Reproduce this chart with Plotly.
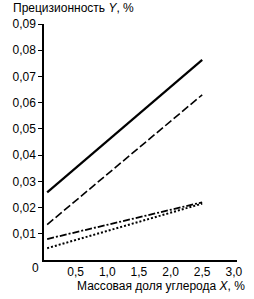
import plotly.graph_objects as go

x_vals = [0.05, 2.5]
solid = [0.0258, 0.0763]
dashed = [0.0135, 0.0630]
dashdot = [0.0080, 0.0220]
dotted = [0.0045, 0.0215]

y_ticks = [0.01, 0.02, 0.03, 0.04, 0.05, 0.06, 0.07, 0.08, 0.09]
x_ticks = [0.5, 1.0, 1.5, 2.0, 2.5, 3.0]

fig = go.Figure()
fig.add_trace(go.Scatter(x=x_vals, y=solid, mode="lines", line=dict(color="black", width=2.2, dash="solid")))
fig.add_trace(go.Scatter(x=x_vals, y=dashed, mode="lines", line=dict(color="black", width=1.6, dash="8px,3px")))
fig.add_trace(go.Scatter(x=x_vals, y=dashdot, mode="lines", line=dict(color="black", width=1.8, dash="7px,2px,2px,2px")))
fig.add_trace(go.Scatter(x=x_vals, y=dotted, mode="lines", line=dict(color="black", width=2, dash="2px,2px")))

font = dict(family="Liberation Sans, Arial", size=12, color="black")
fig.update_layout(
    width=254, height=299,
    margin=dict(l=34, r=12, t=24, b=39),
    plot_bgcolor="white", paper_bgcolor="white",
    showlegend=False,
    separators=", ",
    font=font,
    xaxis=dict(range=[0, 3.05], tickvals=x_ticks, tickformat=".1f", showgrid=False, zeroline=False,
               showline=True, linecolor="black", linewidth=1.5, ticks="", ticklen=0,
               tickfont=font, fixedrange=True),
    yaxis=dict(range=[0, 0.09], tickvals=y_ticks, tickformat=".2f", showgrid=False, zeroline=False,
               showline=True, linecolor="black", linewidth=1.5, ticks="outside", ticklen=4,
               tickwidth=1.2, tickcolor="black", tickfont=font, fixedrange=True),
    annotations=[
        dict(text="Прецизионность <i>Y</i>, %", x=0, y=1, xref="paper", yref="paper",
             xanchor="left", yanchor="bottom", showarrow=False, font=font, xshift=-33, yshift=7),
        dict(text="Массовая доля углерода <i>X</i>, %", x=1, y=0, xref="paper", yref="paper",
             xanchor="right", yanchor="top", showarrow=False, font=font, xshift=10, yshift=-17),
        dict(text="0", x=0, y=0, xref="paper", yref="paper", xanchor="right", yanchor="top",
             showarrow=False, font=font, xshift=-3, yshift=1),
    ],
)
fig.write_html("out.html")
